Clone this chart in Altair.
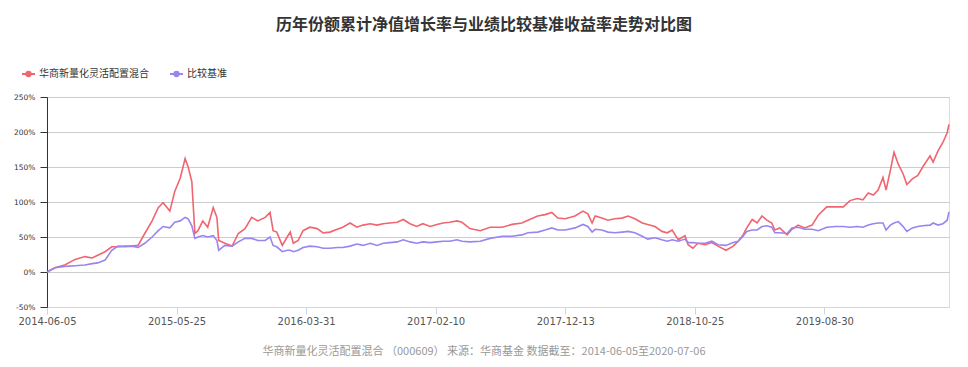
import altair as alt
import pandas as pd

title_text = "历年份额累计净值增长率与业绩比较基准收益率走势对比图"
footer_text = "华商新量化灵活配置混合 （000609） 来源：华商基金 数据截至：2014-06-05至2020-07-06"
series_names = ["华商新量化灵活配置混合", "比较基准"]
series_colors = ["#f0656f", "#9a84ef"]

tick_days = [0, 212, 424, 636, 848, 1060, 1272]
tick_labels = ["2014-06-05", "2015-05-25", "2016-03-31", "2017-02-10",
               "2017-12-13", "2018-10-25", "2019-08-30"]
y_ticks = [-50, 0, 50, 100, 150, 200, 250]

days = [0, 13, 29, 46, 62, 74, 83, 95, 106, 116, 128, 139, 149, 160, 172, 182, 190,
        201, 209, 218, 226, 231, 237, 242, 247, 255, 263, 272, 278, 281, 291, 303,
        313, 324, 335, 345, 357, 365, 370, 376, 385, 393, 398, 403, 411, 419, 430,
        442, 452, 463, 475, 484, 496, 507, 517, 529, 540, 550, 561, 573, 583, 594,
        605, 615, 627, 638, 648, 659, 671, 679, 692, 709, 725, 745, 761, 777, 787,
        803, 815, 826, 836, 848, 864, 877, 885, 892, 897, 908, 918, 929, 941, 951,
        962, 974, 983, 995, 1006, 1015, 1023, 1033, 1044, 1049, 1057, 1065, 1077,
        1088, 1098, 1111, 1123, 1131, 1139, 1145, 1154, 1162, 1170, 1178, 1186,
        1191, 1199, 1211, 1219, 1229, 1240, 1252, 1262, 1276, 1290, 1303, 1314,
        1326, 1335, 1344, 1352, 1360, 1368, 1373, 1380, 1386, 1393, 1401, 1407,
        1416, 1425, 1433, 1445, 1450, 1458, 1466, 1473, 1476]

fund = [0, 6, 10, 18, 22, 20, 24, 29, 36, 36, 37, 37, 38, 55, 73, 92, 99,
        87, 115, 134, 162, 150, 129, 55, 59, 73, 64, 92, 78, 45, 41, 37,
        55, 62, 78, 73, 78, 85, 59, 57, 38, 50, 57, 41, 45, 59, 64,
        62, 56, 57, 61, 64, 70, 64, 67, 69, 67, 69, 70, 71, 75, 69,
        65, 69, 65, 68, 70, 71, 73, 71, 62, 59, 64, 64, 68, 70, 74,
        80, 82, 85, 77, 76, 80, 87, 83, 70, 80, 77, 74, 76, 77, 80,
        76, 70, 68, 65, 58, 56, 60, 46, 52, 39, 34, 41, 39,
        42, 37, 31, 37, 44, 53, 63, 75, 70, 80, 74, 70,
        60, 63, 53, 61, 67, 63, 67, 81, 93, 93, 93, 102,
        105, 103, 113, 110, 117, 135, 117, 145, 171, 154, 140, 125,
        133, 138, 150, 166, 157, 173, 185, 199, 211]

bench = [0, 6, 8, 9, 10, 12, 13, 17, 31, 37, 36, 37, 35, 41, 50, 59, 65,
         63, 71, 73, 78, 76, 66, 48, 50, 52, 50, 52, 45, 31, 38, 37,
         43, 48, 48, 45, 45, 50, 38, 36, 29, 31, 31, 29, 31, 35, 37,
         36, 34, 34, 35, 35, 37, 40, 38, 41, 38, 41, 42, 43, 46, 43,
         41, 43, 42, 43, 44, 44, 46, 44, 43, 44, 48, 51, 51, 53, 56,
         57, 60, 63, 60, 60, 63, 68, 65, 57, 61, 60, 57, 56, 57, 58,
         56, 51, 47, 49, 46, 44, 46, 44, 47, 42, 42, 41, 41,
         44, 39, 38, 42, 44, 51, 58, 60, 60, 65, 66, 64,
         56, 56, 55, 63, 64, 61, 61, 59, 64, 65, 65, 64,
         65, 64, 67, 69, 70, 70, 60, 67, 70, 72, 65, 58,
         63, 65, 66, 67, 70, 67, 69, 74, 86]

n = len(days)
df = pd.DataFrame({
    "day": days + days,
    "value": fund + bench,
    "series": [series_names[0]] * n + [series_names[1]] * n,
})

W, H = 902, 210
label_expr = "[" + ",".join("'%s'" % s for s in tick_labels) + "][round(datum.value/212)]"

x_enc = alt.X("day:Q",
              scale=alt.Scale(domain=[0, 1476], nice=False, zero=False),
              axis=alt.Axis(values=tick_days, labelExpr=label_expr, grid=False,
                            domainColor="#ccd6eb", tickColor="#ccd6eb", tickSize=7,
                            labelPadding=2, labelFontSize=10, labelColor="#555",
                            labelFont="DejaVu Sans", labelFlush=False,
                            labelOverlap=False, title=None))
y_enc = alt.Y("value:Q",
              scale=alt.Scale(domain=[-50, 250], nice=False),
              axis=alt.Axis(values=y_ticks, labelExpr="datum.value + '%'",
                            grid=True, gridColor="#cccccc", domainColor="#333",
                            tickColor="#333", tickSize=7, labelPadding=5,
                            labelFontSize=7.5, labelColor="#333",
                            labelFont="DejaVu Sans", title=None))

lines = alt.Chart(df).mark_line(strokeWidth=1.6, interpolate="linear").encode(
    x=x_enc, y=y_enc,
    color=alt.Color("series:N",
                    scale=alt.Scale(domain=series_names, range=series_colors),
                    legend=None),
    order=alt.Order("day:Q"),
)

one = pd.DataFrame({"k": [0]})
layers = [lines]

layers.append(alt.Chart(pd.DataFrame({"t": [title_text]})).mark_text(
    fontSize=16, fontWeight="bold", font="Noto Sans CJK SC", color="#333",
    align="center", baseline="middle").encode(
    text="t:N", x=alt.value(437), y=alt.value(-72)))

layers.append(alt.Chart(pd.DataFrame({"t": [footer_text]})).mark_text(
    fontSize=11, font="Noto Sans CJK SC", color="#999",
    align="center", baseline="middle").encode(
    text="t:N", x=alt.value(437), y=alt.value(255)))

legend_x = [-25, 123]
for i, name in enumerate(series_names):
    lx = legend_x[i]
    layers.append(alt.Chart(one).mark_rule(color=series_colors[i], strokeWidth=2).encode(
        x=alt.value(lx), x2=alt.value(lx + 13), y=alt.value(-23)))
    layers.append(alt.Chart(one).mark_point(filled=True, color=series_colors[i],
                                            size=40, opacity=1).encode(
        x=alt.value(lx + 6.5), y=alt.value(-23)))
    layers.append(alt.Chart(pd.DataFrame({"t": [name]})).mark_text(
        fontSize=10, font="Noto Sans CJK SC", color="#333",
        align="left", baseline="middle").encode(
        text="t:N", x=alt.value(lx + 17), y=alt.value(-23)))

chart = alt.layer(*layers).properties(
    width=W, height=H,
    padding={"left": 39, "top": 89, "right": 11, "bottom": 52},
    autosize=alt.AutoSizeParams(type="none"),
).configure_view(stroke="#cccccc", strokeWidth=1).configure(background="white")

chart.save("out.html", embed_options={"renderer": "svg", "actions": False})
